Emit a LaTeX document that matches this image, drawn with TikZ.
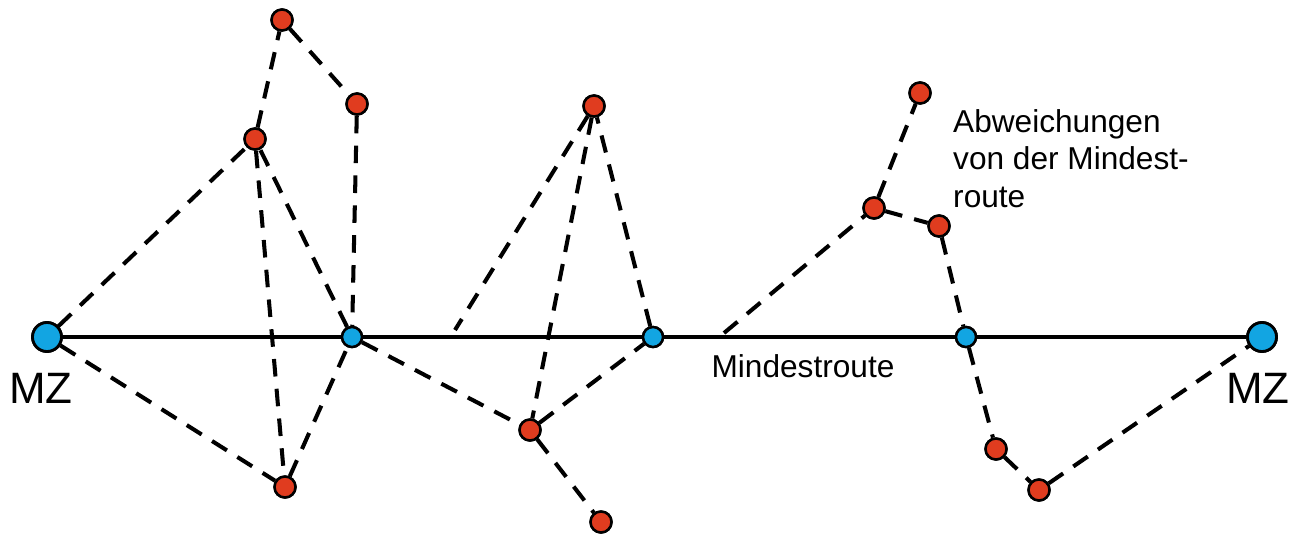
\documentclass[tikz,border=0pt]{standalone}
\usepackage{fontspec}
\setmainfont{Liberation Sans}
\usepackage{tikz}
\usepackage{xcolor}
\usetikzlibrary{positioning,calc}
\definecolor{stopred}{HTML}{E03C1F}
\definecolor{hubblue}{HTML}{12A5E2}

\begin{document}
\begin{tikzpicture}[x=0.02cm,y=-0.02cm]
      \tikzstyle{mz}=[circle,draw,line width=1.6pt,fill=hubblue,minimum size=5.8mm,inner sep=0pt];
      \tikzstyle{hub}=[circle,draw,line width=1.4pt,fill=hubblue,minimum size=4mm,inner sep=0pt];
      \tikzstyle{stp}=[circle,draw,line width=1.4pt,fill=stopred,minimum size=4.2mm,inner sep=0pt];
      \tikzstyle{detour}=[line width=2.3pt,dash pattern=on 10pt off 7pt];
      \useasboundingbox (0,0) rectangle (1298,537);
      % Mindestroute
      \coordinate (fa) at (455,330);
      \coordinate (fb) at (724,333);
      \node[mz]  (mzl) at (47,337)   {};
      \node[mz]  (mzr) at (1262,337) {};
      \node[hub] (h1)  at (352,337)  {};
      \node[hub] (h2)  at (653,337)  {};
      \node[hub] (h3)  at (966,337)  {};
      % Abweichungen
      \node[stp] (a1) at (282,20)  {};
      \node[stp] (a2) at (357,104) {};
      \node[stp] (a3) at (255,139) {};
      \node[stp] (a4) at (285,487) {};
      \node[stp] (b1) at (594,106) {};
      \node[stp] (b2) at (530,430) {};
      \node[stp] (b3) at (601,522) {};
      \node[stp] (c1) at (920,93)  {};
      \node[stp] (c2) at (874,208) {};
      \node[stp] (c3) at (939,226) {};
      \node[stp] (c4) at (996,449) {};
      \node[stp] (c5) at (1039,490) {};
      \draw[line width=2.2pt] (mzl) -- (h1) -- (h2) -- (h3) -- (mzr);
      \draw[detour] (mzl) -- (a3) -- (a1) -- (a2) -- (h1);
      \draw[detour] (mzl) -- (a4) -- (h1) -- (a3) -- (a4);
      \draw[detour] (h1) -- (b2) -- (h2) -- (b1) -- (b2) -- (b3);
      \draw[detour] (b1) -- (fa);
      \draw[detour] (fb) -- (c2) -- (c1);
      \draw[detour] (c2) -- (c3) -- (h3) -- (c4) -- (c5) -- (mzr);
      % nodes again, over the lines
      \foreach \n/\s in {mzl/mz,mzr/mz,h1/hub,h2/hub,h3/hub,a1/stp,a2/stp,a3/stp,a4/stp,
                         b1/stp,b2/stp,b3/stp,c1/stp,c2/stp,c3/stp,c4/stp,c5/stp}
        \node[\s] at (\n) {};
      \node[font=\fontsize{25}{28}\selectfont] (mzlt) at (41,388) {MZ};
      \node[font=\fontsize{25}{28}\selectfont] (mzrt) at (1258,388) {MZ};
      \node[font=\fontsize{18}{21}\selectfont] (route) at (803,366) {Mindestroute};
      \node[font=\fontsize{18}{21.5}\selectfont,align=left,anchor=north west] (dev) at (947,103)
           {Abweichungen\\von der Mindest-\\route};
    \end{tikzpicture}
\end{document}
